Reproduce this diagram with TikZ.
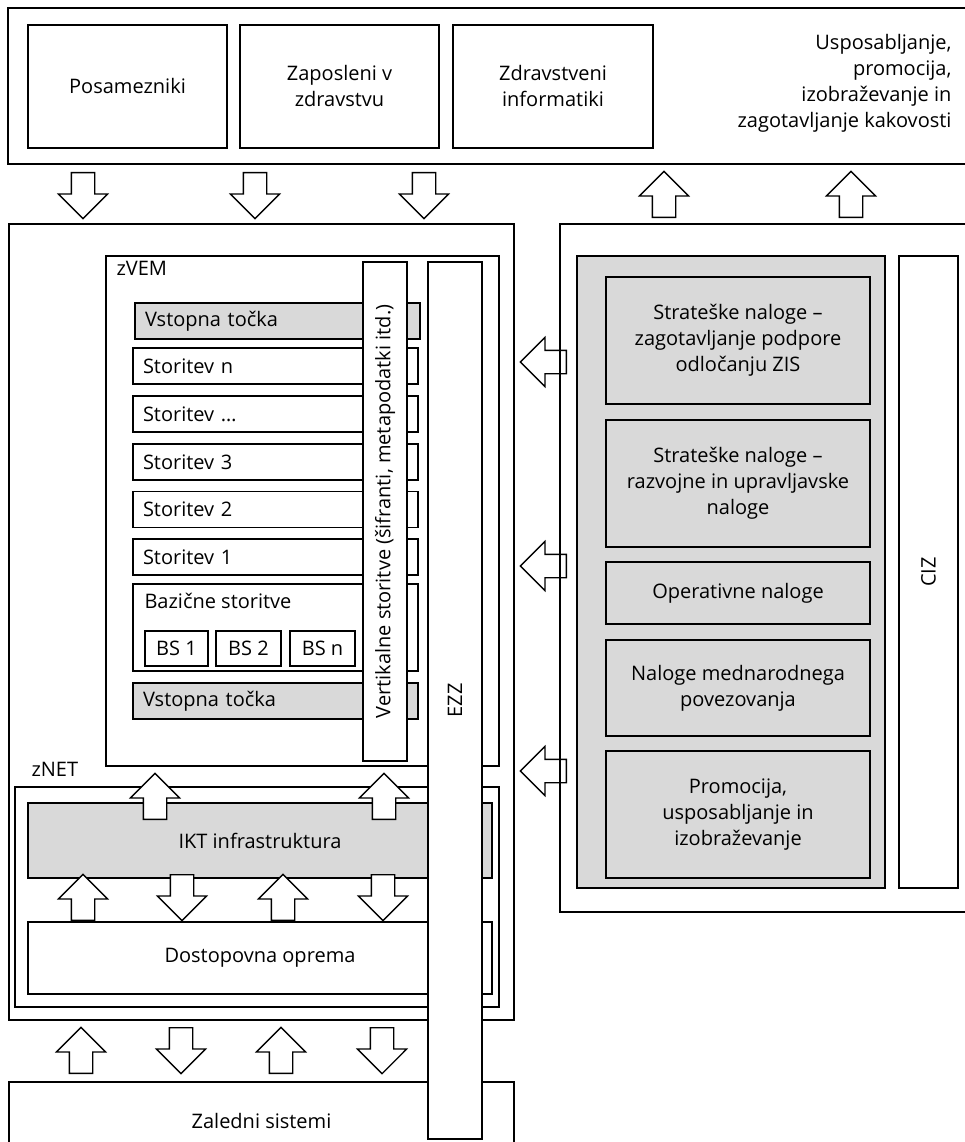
\documentclass[tikz,border=0pt]{standalone}
\usepackage{fontspec}
\setmainfont{Open Sans}
\usetikzlibrary{shapes.arrows}
\definecolor{panelgray}{HTML}{D9D9D9}

\tikzset{
  box/.style={draw, line width=1.3pt, inner sep=0pt, align=center},
  graybox/.style={box, fill=panelgray},
  rowbox/.style={box, minimum height=36pt, text width=265pt, inner xsep=10pt, align=left},
  blockarrow/.style={single arrow, draw, fill=white, line width=1.3pt,
    minimum height=46pt, inner xsep=0pt, inner ysep=11pt,
    single arrow head extend=13pt, anchor=tail},
}

\begin{document}
\begin{tikzpicture}[x=1pt, y=-1pt, font=\fontsize{20}{26}\selectfont]
  \useasboundingbox (0,0) rectangle (964,1142);

  % users on top
  \node[box, minimum width=958pt, minimum height=156pt] (users) at (487,86) {};
  \node[box, minimum width=199pt, minimum height=123pt] (posam) at (127.5,86.5) {Posamezniki};
  \node[box, minimum width=199pt, minimum height=123pt] (zapos) at (339.5,86.5) {Zaposleni v\\zdravstvu};
  \node[box, minimum width=200pt, minimum height=123pt] (zdrav) at (553,86.5) {Zdravstveni\\informatiki};
  \node[align=right, anchor=east] (uspos) at (955,83)
    {Usposabljanje,\\promocija,\\izobraževanje in\\zagotavljanje kakovosti};

  % arrows under the top row
  \node[blockarrow, rotate=-90] (d1) at (83,172) {};
  \node[blockarrow, rotate=-90] (d2) at (255,172) {};
  \node[blockarrow, rotate=-90] (d3) at (424,172) {};
  \node[blockarrow, rotate=90] (u1) at (664,218) {};
  \node[blockarrow, rotate=90] (u2) at (851,218) {};

  % left block
  \node[box, minimum width=505pt, minimum height=796pt] (left) at (261.5,622) {};
  \node[box, minimum width=393pt, minimum height=510pt] (zvem) at (302.5,511) {};
  \node[anchor=west] (zvemlbl) at (113,268) {zVEM};

  % services
  \node[graybox, rowbox, text width=265pt] (vstop1) at (277.5,321) {Vstopna točka};
  \node[rowbox] (storn) at (275.5,366) {Storitev n};
  \node[rowbox] (stordots) at (275.5,414) {Storitev \dots};
  \node[rowbox] (stor3) at (275.5,462) {Storitev 3};
  \node[rowbox] (stor2) at (275.5,509.5) {Storitev 2};
  \node[rowbox] (stor1) at (275.5,557) {Storitev 1};
  \node[box, minimum width=285pt, minimum height=87pt] (bazic) at (275.5,627.5) {};
  \node[anchor=west] (baziclbl) at (141,601) {Bazične storitve};
  \node[box, minimum width=63pt, minimum height=35pt] (bs1) at (176.5,648.5) {BS 1};
  \node[box, minimum width=65pt, minimum height=35pt] (bs2) at (248.5,648.5) {BS 2};
  \node[box, minimum width=65pt, minimum height=35pt] (bsn) at (322.5,648.5) {BS n};
  \node[graybox, rowbox] (vstop2) at (275.5,701) {Vstopna točka};

  % zNET
  \node[anchor=west] (znetlbl) at (28,769) {zNET};
  \node[box, minimum width=484pt, minimum height=220pt] (znet) at (257,897) {};
  \node[graybox, minimum width=464pt, minimum height=75pt] (ikt) at (260,840.5) {IKT infrastruktura};
  \node[box, minimum width=464pt, minimum height=72pt] (dostop) at (260,958) {Dostopovna oprema};
  \node[box, minimum width=505pt, minimum height=78pt] (zaledni) at (261.5,1121) {Zaledni sistemi};

  % vertical bars
  \node[box, fill=white, rotate=90, minimum width=499pt, minimum height=44pt] (vert) at (385,511.5)
    {Vertikalne storitve (šifranti, metapodatki itd.)};
  \node[box, fill=white, rotate=90, minimum width=877pt, minimum height=54pt] (ezz) at (455,700.5) {EZZ};

  % arrows in the left block
  \node[blockarrow, rotate=90] (n1) at (155,820) {};
  \node[blockarrow, rotate=90] (n2) at (384,820) {};
  \node[blockarrow, rotate=90] (m1) at (83,921) {};
  \node[blockarrow, rotate=-90] (m2) at (182,874) {};
  \node[blockarrow, rotate=90] (m3) at (283,921) {};
  \node[blockarrow, rotate=-90] (m4) at (383,874) {};
  \node[blockarrow, rotate=90] (b1) at (81,1074) {};
  \node[blockarrow, rotate=-90] (b2) at (181,1027) {};
  \node[blockarrow, rotate=90] (b3) at (281,1074) {};
  \node[blockarrow, rotate=-90] (b4) at (382,1027) {};

  % arrows into the left block
  \node[blockarrow, rotate=180] (l1) at (567,362) {};
  \node[blockarrow, rotate=180] (l2) at (567,566) {};
  \node[blockarrow, rotate=180] (l3) at (567,771) {};

  % right block
  \node[box, minimum width=410pt, minimum height=688pt] (right) at (765,568) {};
  \node[graybox, minimum width=308pt, minimum height=632pt] (tasks) at (731,572) {};
  \node[box, rotate=90, minimum width=632pt, minimum height=59pt] (ciz) at (928.5,572) {CIZ};
  \node[graybox, minimum width=264pt, minimum height=127pt] (t1) at (738,340.5)
    {Strateške naloge –\\zagotavljanje podpore\\odločanju ZIS};
  \node[graybox, minimum width=264pt, minimum height=127pt] (t2) at (738,483.5)
    {Strateške naloge –\\razvojne in upravljavske\\naloge};
  \node[graybox, minimum width=264pt, minimum height=62pt] (t3) at (738,593) {Operativne naloge};
  \node[graybox, minimum width=264pt, minimum height=96pt] (t4) at (738,688)
    {Naloge mednarodnega\\povezovanja};
  \node[graybox, minimum width=264pt, minimum height=127pt] (t5) at (738,814.5)
    {Promocija,\\usposabljanje in\\izobraževanje};
\end{tikzpicture}
\end{document}
